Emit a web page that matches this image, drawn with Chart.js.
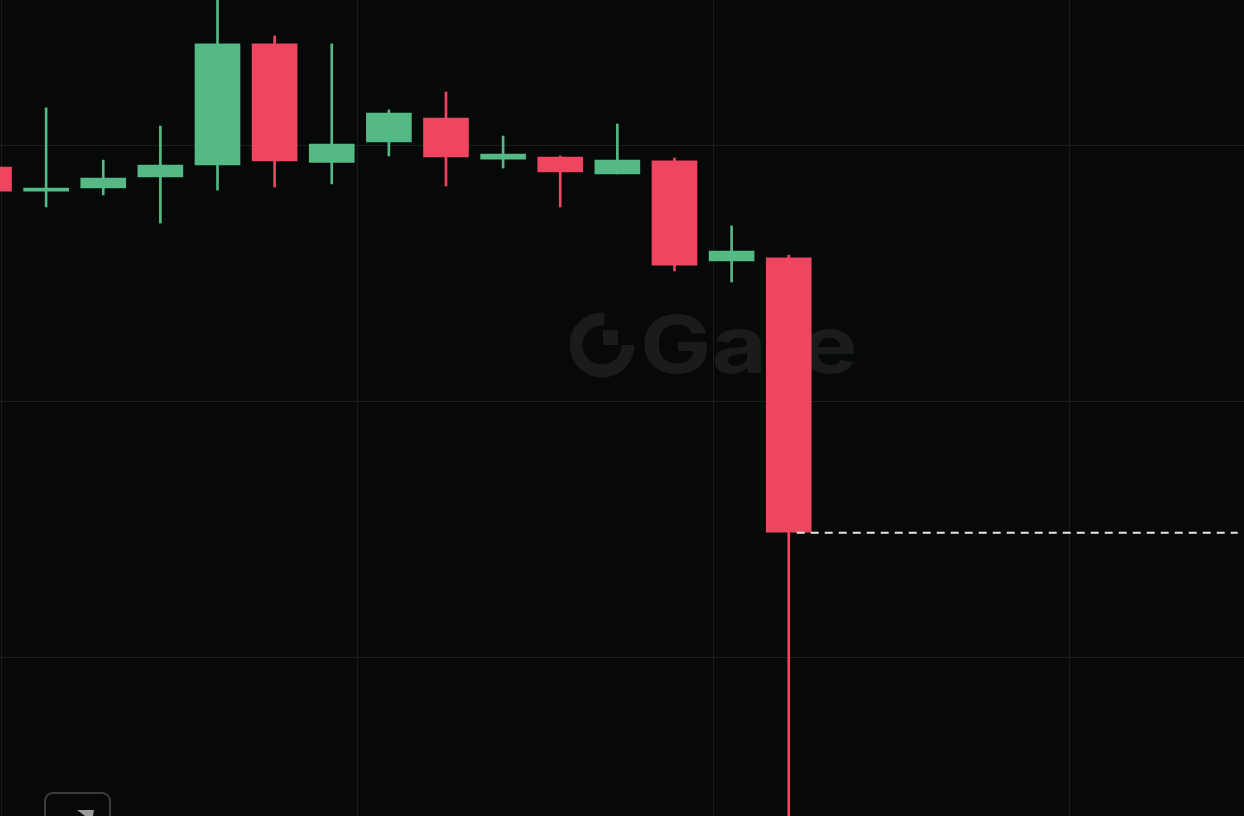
<!DOCTYPE html>
<html>
<head>
<meta charset="utf-8">
<title>Gate candles</title>
<script src="https://cdn.jsdelivr.net/npm/chart.js@4/dist/chart.umd.min.js"></script>
<style>
    html, body { margin: 0; padding: 0; background: #060908; overflow: hidden; }
    canvas { display: block; }
</style>
</head>
<body>
<canvas id="Chart" width="1244" height="816"></canvas>
<script>
//Candle values. Index 0 is the cut off candle at the left edge.
const candles = [0, 1, 2, 3, 4, 5, 6, 7, 8, 9, 10, 11, 12, 13, 14];
const opens =  [39.14, 38.20, 38.32, 38.75, 39.22, 43.95, 39.32, 40.12, 41.05, 39.45, 39.53, 38.87, 39.38, 35.47, 35.59];
const closes = [38.20, 38.32, 38.71, 39.22, 43.95, 39.38, 40.04, 41.25, 39.53, 39.65, 38.95, 39.41, 35.31, 35.86, 24.88];
const highs =  [39.14, 41.45, 39.41, 40.74, 46.50, 44.26, 43.95, 41.37, 42.07, 40.35, 39.57, 40.82, 39.49, 36.84, 35.70];
const lows =   [38.20, 37.58, 38.05, 36.95, 38.24, 38.36, 38.48, 39.57, 38.40, 39.10, 37.58, 38.87, 35.08, 34.65, 12.00];

//Grid lines and the dashed last price line.
const priceTicks = [19.98, 29.98, 39.98];
const timeTicks = [0.22, 6.45, 12.68, 18.91];
const lastPriceX = [14.14, 21.86];
const lastPriceY = [24.85, 24.85];

const GREEN = '#55b985';
const RED = '#ee4660';
const GRID = '#1a1d1c';
const WATERMARK = '#1a1c1c';

function candleColor(context) {
    let i = context.dataIndex;
    return closes[i] >= opens[i] ? GREEN : RED;
}

//Faint logo behind the candles.
const watermark = {
    id: 'watermark',
    beforeDatasetsDraw(chart) {
        let ctx = chart.ctx;
        ctx.save();
        ctx.strokeStyle = WATERMARK;
        ctx.fillStyle = WATERMARK;
        ctx.lineWidth = 13;
        ctx.beginPath();
        ctx.arc(602, 345, 26, 0, Math.PI * 1.53);
        ctx.stroke();
        ctx.fillRect(603, 330, 15, 15);
        ctx.font = '700 80px Inter';
        ctx.textBaseline = 'alphabetic';
        ctx.translate(640, 373);
        ctx.scale(1.19, 1);
        ctx.fillText('Gate', 0, 0);
        ctx.restore();
    }
};

//The corner of the button cut off by the bottom edge.
const cornerButton = {
    id: 'cornerButton',
    afterDraw(chart) {
        let ctx = chart.ctx;
        ctx.save();
        ctx.strokeStyle = '#3a3c3c';
        ctx.lineWidth = 2;
        ctx.beginPath();
        ctx.roundRect(45, 793, 65, 40, 8);
        ctx.stroke();
        ctx.fillStyle = '#9a9c9c';
        ctx.beginPath();
        ctx.moveTo(77, 810);
        ctx.lineTo(94, 810);
        ctx.lineTo(93, 816);
        ctx.lineTo(85, 816);
        ctx.closePath();
        ctx.fill();
        ctx.restore();
    }
};

const config = {
    type: 'bar',
    data: {
        datasets: [{
            label: 'Last price',
            type: 'line',
            data: lastPriceX.map((x, i) => ({x: x, y: lastPriceY[i]})),
            borderColor: '#e4e6e4',
            borderWidth: 2,
            borderDash: [8, 6],
            pointRadius: 0,
            order: 0
        }, {
            label: 'Body',
            data: candles.map(i => ({x: i, y: [opens[i], closes[i]]})),
            backgroundColor: candleColor,
            barThickness: 45,
            grouped: false,
            order: 1
        }, {
            label: 'Wick',
            data: candles.map(i => ({x: i, y: [lows[i], highs[i]]})),
            backgroundColor: candleColor,
            barThickness: 2,
            grouped: false,
            order: 2
        }]
    },
    options: {
        responsive: false,
        animation: false,
        layout: {padding: 0},
        plugins: {
            legend: {display: false},
            tooltip: {enabled: false}
        },
        scales: {
            x: {
                type: 'linear',
                offset: false,
                min: 0.1925,
                max: 21.97,
                afterBuildTicks: axis => { axis.ticks = timeTicks.map(v => ({value: v})); },
                grid: {color: GRID, offset: false, drawTicks: false},
                border: {display: false},
                ticks: {display: false}
            },
            y: {
                type: 'linear',
                min: 13.789,
                max: 45.664,
                afterBuildTicks: axis => { axis.ticks = priceTicks.map(v => ({value: v})); },
                grid: {color: GRID, drawTicks: false},
                border: {display: false},
                ticks: {display: false}
            }
        }
    },
    plugins: [watermark, cornerButton]
};

window.myChart = new Chart(document.getElementById('Chart').getContext('2d'), config);
</script>
</body>
</html>
